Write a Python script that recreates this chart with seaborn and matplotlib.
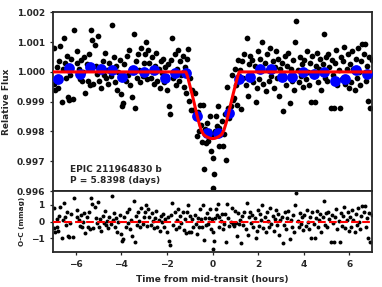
import matplotlib
matplotlib.use('Agg')
import matplotlib.pyplot as plt
import seaborn as sns
import numpy as np

# ---- data ----
# observation times (hours from mid-transit)
t_obs = [
    -6.98, -6.94, -6.90, -6.85, -6.81, -6.77, -6.72, -6.68, -6.63, -6.58,
    -6.54, -6.49, -6.44, -6.40, -6.35, -6.30, -6.25, -6.20, -6.14, -6.08,
    -5.97, -5.93, -5.88, -5.83, -5.78, -5.73, -5.68, -5.63, -5.58, -5.53,
    -5.48, -5.43, -5.38, -5.33, -5.28, -5.23, -5.18, -5.13, -5.08, -5.03,
    -4.98, -4.93, -4.88, -4.83, -4.78, -4.73, -4.68, -4.63, -4.58, -4.53,
    -4.48, -4.43, -4.38, -4.33, -4.28, -4.23, -4.18, -4.13, -4.07, -4.02,
    -3.97, -3.92, -3.87, -3.82, -3.77, -3.72, -3.67, -3.62, -3.57, -3.52,
    -3.47, -3.42, -3.37, -3.32, -3.27, -3.22, -3.17, -3.12, -3.07, -3.02,
    -2.97, -2.92, -2.87, -2.82, -2.77, -2.72, -2.67, -2.62, -2.57, -2.52,
    -2.47, -2.42, -2.37, -2.32, -2.27, -2.22, -2.17, -2.12, -2.07, -2.02,
    -1.97, -1.92, -1.87, -1.82, -1.77, -1.72, -1.67, -1.62, -1.57, -1.52,
    -1.47, -1.42, -1.37, -1.32, -1.27, -1.22,
    -1.17, -1.12, -1.07, -1.03, -0.98, -0.94, -0.89, -0.84, -0.79, -0.74,
    -0.69, -0.65, -0.60, -0.55, -0.50, -0.45, -0.40, -0.37, -0.33, -0.28,
    -0.23, -0.19, -0.15, -0.11, -0.07, -0.03, 0.00, 0.04, 0.07, 0.11,
    0.15, 0.18, 0.22, 0.26, 0.30, 0.35, 0.40, 0.45, 0.50, 0.55,
    0.59, 0.64, 0.69, 0.74, 0.79, 0.84, 0.89, 0.94, 0.98, 1.03,
    1.07, 1.12, 1.16,
    1.21, 1.26, 1.30, 1.35, 1.40, 1.45, 1.50, 1.54, 1.59, 1.64,
    1.69, 1.74, 1.79, 1.84, 1.89, 1.94, 1.98,
    2.03, 2.08, 2.13, 2.18, 2.23, 2.28, 2.33, 2.38, 2.43, 2.48,
    2.53, 2.58, 2.63, 2.68, 2.73, 2.78, 2.83, 2.88, 2.93, 2.98,
    3.03, 3.08, 3.13, 3.18, 3.23, 3.28, 3.33, 3.38, 3.43, 3.48,
    3.53, 3.58, 3.63, 3.68, 3.73, 3.78, 3.83, 3.88, 3.93, 3.98,
    4.03, 4.08, 4.13, 4.18, 4.23, 4.28, 4.33, 4.38, 4.43, 4.48,
    4.53, 4.58, 4.63, 4.68, 4.73, 4.78, 4.83, 4.88, 4.93, 4.98,
    5.03, 5.08, 5.13, 5.18, 5.23, 5.28, 5.33, 5.38, 5.43, 5.48,
    5.53, 5.58, 5.63, 5.68, 5.73, 5.78, 5.83, 5.88, 5.93, 5.98,
    6.03, 6.08, 6.13, 6.18, 6.23, 6.28, 6.33, 6.38, 6.43, 6.48,
    6.53, 6.58, 6.63, 6.68, 6.73, 6.78, 6.83, 6.88, 6.93, 6.98,
]

# relative flux of each observation
flux_obs = [
    1.00080, 0.99960, 0.99938, 0.99970, 1.00015, 0.99945, 1.00036, 1.00086, 0.99900, 1.00010,
    1.00114, 1.00030, 0.99980, 1.00055, 0.99915, 0.99905, 0.99990, 1.00045, 0.99910, 1.00140,
    1.00030, 1.00070, 1.00010, 0.99975, 1.00040, 0.99970, 1.00000, 1.00050, 0.99930, 1.00025,
    0.99970, 1.00060, 0.99955, 1.00140, 1.00106, 0.99960, 1.00090, 1.00020, 0.99994, 1.00120,
    0.99970, 1.00015, 0.99945, 1.00035, 0.99990, 1.00065, 0.99980, 1.00005, 0.99960, 1.00030,
    0.99985, 1.00156, 1.00010, 1.00050, 0.99965, 1.00020, 0.99940, 1.00000, 1.00040, 0.99925,
    0.99885, 0.99895, 1.00025, 0.99970, 1.00055, 0.99990, 1.00075, 0.99955, 1.00010, 0.99915,
    1.00126, 0.99880, 1.00035, 0.99980, 1.00060, 1.00005, 0.99965, 1.00080, 0.99985, 1.00030,
    1.00060, 1.00100, 0.99975, 1.00074, 1.00030, 0.99980, 1.00050, 1.00005, 0.99960, 1.00020,
    1.00065, 0.99970, 1.00010, 0.99945, 1.00035, 0.99995, 1.00045, 0.99965, 1.00015, 0.99940,
    1.00025, 0.99885, 0.99860, 1.00040, 1.00114, 0.99980, 1.00060, 0.99955, 1.00010, 1.00075,
    0.99970, 1.00035, 0.99990, 1.00055, 0.99950, 1.00015,
    0.99929, 1.00045, 1.00076, 0.99901, 0.99980, 0.99873, 0.99940, 0.99873, 0.99930, 0.99860,
    0.99784, 0.99865, 0.99800, 0.99890, 0.99823, 0.99765, 0.99890, 0.99675, 0.99810, 0.99760,
    0.99830, 0.99767, 0.99800, 0.99853, 0.99734, 0.99790, 0.99611, 0.99712, 0.99658, 0.99800,
    0.99851, 0.99817, 0.99885, 0.99750, 0.99812, 0.99790, 0.99836, 0.99752, 0.99790, 0.99860,
    0.99704, 0.99950, 0.99879, 0.99845, 0.99885, 0.99990, 0.99907, 0.99912, 1.00010, 0.99955,
    0.99890, 1.00040, 0.99985,
    1.00007, 0.99874, 1.00035, 0.99980, 1.00060, 0.99955, 1.00114, 0.99918, 1.00025, 1.00055,
    0.99990, 1.00040, 0.99965, 1.00020, 0.99900, 0.99945, 1.00070,
    0.99975, 1.00045, 1.00010, 1.00100, 0.99960, 1.00030, 0.99935, 1.00060, 1.00005, 0.99970,
    1.00080, 0.99985, 1.00035, 0.99945, 1.00015, 1.00070, 0.99980, 1.00045, 0.99920, 1.00010,
    1.00030, 0.99868, 0.99980, 1.00055, 0.99955, 1.00020, 1.00065, 0.99894, 1.00010, 0.99970,
    1.00040, 0.99940, 1.00100, 1.00170, 1.00005, 0.99965, 1.00050, 0.99985, 1.00025, 0.99950,
    1.00040, 0.99975, 1.00070, 1.00000, 0.99955, 1.00030, 0.99900, 1.00055, 0.99985, 0.99900,
    1.00020, 1.00065, 0.99965, 1.00010, 1.00045, 0.99940, 1.00025, 1.00126, 0.99980, 1.00050,
    0.99970, 1.00060, 1.00015, 0.99880, 1.00040, 0.99990, 0.99879, 1.00030, 1.00075, 0.99955,
    1.00005, 0.99880, 1.00050, 0.99975, 1.00035, 1.00085, 0.99960, 1.00010, 1.00060, 0.99945,
    1.00025, 0.99965, 1.00070, 1.00010, 0.99940, 1.00045, 0.99980, 1.00080, 1.00000, 0.99955,
    1.00035, 1.00095, 1.00060, 1.00094, 0.99970, 1.00020, 0.99901, 1.00050, 0.99880, 1.00040,
]

# observed minus computed (mmag)
oc_mmag = [
    0.80, -0.40, -0.62, -0.30, 0.15, -0.55, 0.36, 0.86, -1.00, 0.10,
    1.14, 0.30, -0.20, 0.55, -0.85, -0.95, -0.10, 0.45, -0.90, 1.40,
    0.30, 0.70, 0.10, -0.25, 0.40, -0.30, 0.00, 0.50, -0.70, 0.25,
    -0.30, 0.60, -0.45, 1.40, 1.06, -0.40, 0.90, 0.20, -0.06, 1.20,
    -0.30, 0.15, -0.55, 0.35, -0.10, 0.65, -0.20, 0.05, -0.40, 0.30,
    -0.15, 1.56, 0.10, 0.50, -0.35, 0.20, -0.60, 0.00, 0.40, -0.75,
    -1.15, -1.05, 0.25, -0.30, 0.55, -0.10, 0.75, -0.45, 0.10, -0.85,
    1.26, -1.20, 0.35, -0.20, 0.60, 0.05, -0.35, 0.80, -0.15, 0.30,
    0.60, 1.00, -0.25, 0.74, 0.30, -0.20, 0.50, 0.05, -0.40, 0.20,
    0.65, -0.30, 0.10, -0.55, 0.35, -0.05, 0.45, -0.35, 0.15, -0.60,
    0.25, -1.15, -1.40, 0.40, 1.14, -0.20, 0.60, -0.45, 0.10, 0.75,
    -0.30, 0.35, -0.10, 0.55, -0.50, 0.15,
    -0.71, 0.55, 1.00, -0.63, 0.31, -0.64, 0.18, -0.33, 0.40, -0.13,
    -0.73, 0.20, -0.30, 0.73, 0.18, -0.32, 1.00, -1.13, 0.24, -0.23,
    0.49, -0.13, 0.22, 0.76, -0.43, 0.14, -1.65, -0.64, -1.19, 0.23,
    0.73, 0.38, 1.04, -0.32, 0.28, 0.03, 0.46, -0.44, -0.15, 0.44,
    -1.23, 1.08, 0.22, -0.28, -0.05, 0.84, -0.15, -0.25, 0.61, -0.09,
    -0.86, 0.50, -0.15,
    0.07, -1.26, 0.35, -0.20, 0.60, -0.45, 1.14, -0.82, 0.25, 0.55,
    -0.10, 0.40, -0.35, 0.20, -1.00, -0.55, 0.70,
    -0.25, 0.45, 0.10, 1.00, -0.40, 0.30, -0.65, 0.60, 0.05, -0.30,
    0.80, -0.15, 0.35, -0.55, 0.15, 0.70, -0.20, 0.45, -0.80, 0.10,
    0.30, -1.32, -0.20, 0.55, -0.45, 0.20, 0.65, -1.06, 0.10, -0.30,
    0.40, -0.60, 1.00, 1.70, 0.05, -0.35, 0.50, -0.15, 0.25, -0.50,
    0.40, -0.25, 0.70, 0.00, -0.45, 0.30, -1.00, 0.55, -0.15, -1.00,
    0.20, 0.65, -0.35, 0.10, 0.45, -0.60, 0.25, 1.26, -0.20, 0.50,
    -0.30, 0.60, 0.15, -1.20, 0.40, -0.10, -1.21, 0.30, 0.75, -0.45,
    0.05, -1.20, 0.50, -0.25, 0.35, 0.85, -0.40, 0.10, 0.60, -0.55,
    0.25, -0.35, 0.70, 0.10, -0.60, 0.45, -0.20, 0.80, 0.00, -0.45,
    0.35, 0.95, 0.60, 0.94, -0.30, 0.20, -0.99, 0.50, -1.20, 0.40,
]

# binned light curve
t_bin = [-6.77, -6.30, -5.83, -5.37, -4.90, -4.43, -3.97, -3.50, -3.03, -2.57,
         -2.10, -1.63, -1.17, -0.70, -0.23, 0.23, 0.70, 1.17, 1.63, 2.10,
         2.57, 3.03, 3.50, 3.97, 4.43, 4.90, 5.37, 5.83, 6.30, 6.77]
flux_bin = [0.99976, 1.00013, 0.99993, 1.00018, 1.00010, 1.00005, 0.99983, 1.00007, 1.00001, 1.00007,
            0.99981, 0.99996, 0.99996, 0.99851, 0.99795, 0.99795, 0.99862, 0.99977, 0.99983, 1.00010,
            1.00010, 0.99983, 0.99983, 1.00001, 0.99994, 1.00001, 0.99971, 0.99976, 1.00007, 0.99994]

# transit model curve
t_model = [-7.0, -1.17, -1.10, -1.00, -0.90, -0.80, -0.70, -0.60, -0.50, -0.40, -0.30, -0.20, -0.10,
           0.00, 0.10, 0.20, 0.30, 0.40, 0.50, 0.60, 0.70, 0.80, 0.90, 1.00, 1.10, 1.17, 7.0]
flux_model = [1.00000, 1.00000, 0.99985, 0.99955, 0.99925, 0.99893, 0.99860, 0.99830, 0.99805, 0.99790,
              0.99784, 0.99780, 0.99777, 0.99776, 0.99777, 0.99780, 0.99784, 0.99790, 0.99805, 0.99830,
              0.99860, 0.99893, 0.99925, 0.99955, 0.99985, 1.00000, 1.00000]

target_name = "EPIC 211964830 b"
period_days = 5.8398

# ---- style ----
sns.set_style("ticks")
plt.rcParams['font.family'] = ['DejaVu Sans']
plt.rcParams['font.size'] = 6.5
plt.rcParams['font.weight'] = 'bold'
plt.rcParams['axes.labelweight'] = 'bold'
plt.rcParams['axes.linewidth'] = 1.3
plt.rcParams['xtick.major.size'] = 2.5
plt.rcParams['ytick.major.size'] = 2.5
plt.rcParams['xtick.major.width'] = 0.9
plt.rcParams['ytick.major.width'] = 0.9

fig = plt.figure(figsize=(3.82, 2.87), dpi=100)
gs = fig.add_gridspec(2, 1, height_ratios=[179, 61], hspace=0,
                      left=0.139, right=0.974, top=0.957, bottom=0.122)
ax1 = fig.add_subplot(gs[0])
ax2 = fig.add_subplot(gs[1], sharex=ax1)

# top panel: light curve
sns.scatterplot(x=t_obs, y=flux_obs, color='black', s=17, linewidth=0, ax=ax1, zorder=2)
sns.scatterplot(x=t_bin, y=flux_bin, color='blue', s=60, linewidth=0, ax=ax1, zorder=3)
sns.lineplot(x=t_model, y=flux_model, color='red', linewidth=2.2, estimator=None,
             sort=False, ax=ax1, zorder=4)

ax1.set_xlim(-7, 7)
ax1.set_ylim(0.996, 1.002)
ax1.set_yticks(np.arange(0.996, 1.0021, 0.001))
ax1.yaxis.set_major_formatter(matplotlib.ticker.FormatStrFormatter('%.3f'))
ax1.set_ylabel("Relative Flux")
ax1.tick_params(labelbottom=False)
ax1.text(0.053, 0.035, f"{target_name}\nP = {period_days} (days)",
         transform=ax1.transAxes, fontsize=6.5, fontweight='bold',
         ha='left', va='bottom', linespacing=1.3)

# bottom panel: residuals
sns.scatterplot(x=t_obs, y=oc_mmag, color='black', s=8, linewidth=0, ax=ax2, zorder=2)
ax2.axhline(0, color='red', linestyle='--', linewidth=1.5, zorder=3)
ax2.set_ylim(-1.83, 1.83)
ax2.set_yticks([-1, 0, 1])
ax2.set_xticks([-6, -4, -2, 0, 2, 4, 6])
ax2.set_ylabel("O-C (mmag)", fontsize=5.2)
ax2.set_xlabel("Time from mid-transit (hours)")
ax2.set_xlim(-7, 7)

for ax in (ax1, ax2):
    for sp in ax.spines.values():
        sp.set_visible(True)

fig.savefig("out.png", dpi=100)
